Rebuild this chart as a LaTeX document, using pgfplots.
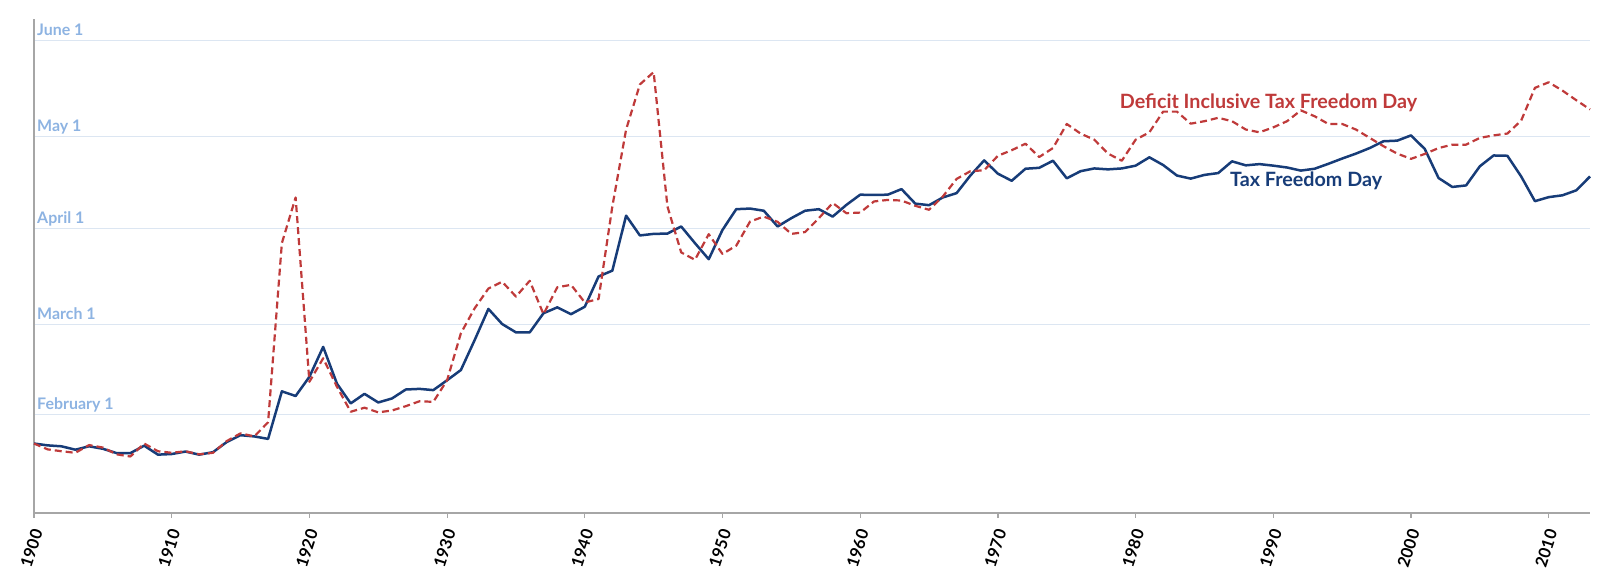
\documentclass[border=0pt]{standalone}
\usepackage{fontspec}
\setmainfont{Lato}
\usepackage{pgfplots}
\pgfplotsset{compat=1.18}
\definecolor{tfdblue}{HTML}{173C78}
\definecolor{ditred}{HTML}{BF3A3A}
\definecolor{gridblue}{HTML}{DCE6F2}
\definecolor{lablue}{HTML}{8DB3E2}
\definecolor{axgrey}{HTML}{A6A6A6}
\begin{document}
\begin{tikzpicture}
\begin{axis}[
  scale only axis, width=1556bp, height=494bp,
  xmin=1900, xmax=2013, ymin=0, ymax=160,
  axis lines=left,
  axis line style={-, draw=axgrey, line width=1.2bp},
  xtick={1900,1910,1920,1930,1940,1950,1960,1970,1980,1990,2000,2010},
  xticklabels={1900,1910,1920,1930,1940,1950,1960,1970,1980,1990,2000,2010},
  tick align=outside, major tick length=5bp,
  x tick style={draw=axgrey, line width=1.2bp},
  ytick={32,61,92,122,153},
  yticklabels={February 1,March 1,April 1,May 1,June 1},
  y tick style={draw=none},
  ymajorgrids, grid style={draw=gridblue, line width=1bp},
  yticklabel style={anchor=base west, inner sep=0pt, xshift=8bp, yshift=5bp,
    text=lablue, font=\bfseries\fontsize{16}{16}\selectfont},
  xticklabel style={xshift=4bp, yshift=-10bp, rotate=72, anchor=east, inner sep=2bp,
    text=black, font=\bfseries\fontsize{16.5}{16.5}\selectfont},
  clip=false,
]
\addplot[tfdblue, line width=2.5bp, line join=round] coordinates {
(1900,22.5)(1901,21.9)(1902,21.6)(1903,20.5)(1904,21.6)(1905,20.8)(1906,19.4)(1907,19.4)(1908,21.8)(1909,18.9)
(1910,19.1)(1911,19.9)(1912,18.9)(1913,19.7)(1914,23.0)(1915,25.2)(1916,24.8)(1917,24.0)(1918,39.4)(1919,37.9)
(1920,44.1)(1921,53.8)(1922,41.9)(1923,35.5)(1924,38.6)(1925,35.8)(1926,37.1)(1927,40.0)(1928,40.2)(1929,39.8)
(1930,43.0)(1931,46.3)(1932,56.0)(1933,66.1)(1934,61.2)(1935,58.5)(1936,58.5)(1937,64.7)(1938,66.6)(1939,64.4)
(1940,66.8)(1941,76.6)(1942,78.5)(1943,96.3)(1944,89.9)(1945,90.4)(1946,90.5)(1947,92.8)(1948,87.4)(1949,82.2)
(1950,91.7)(1951,98.4)(1952,98.6)(1953,97.9)(1954,92.8)(1955,95.5)(1956,97.9)(1957,98.4)(1958,96.0)(1959,99.8)
(1960,103.1)(1961,103.0)(1962,103.1)(1963,104.9)(1964,100.2)(1965,99.7)(1966,102.2)(1967,103.6)(1968,109.3)(1969,114.2)
(1970,109.9)(1971,107.6)(1972,111.5)(1973,111.8)(1974,114.1)(1975,108.4)(1976,110.7)(1977,111.6)(1978,111.3)(1979,111.6)
(1980,112.5)(1981,115.2)(1982,112.7)(1983,109.3)(1984,108.3)(1985,109.5)(1986,110.1)(1987,113.9)(1988,112.6)(1989,113.0)
(1990,112.5)(1991,111.9)(1992,110.9)(1993,111.5)(1994,113.1)(1995,114.8)(1996,116.4)(1997,118.2)(1998,120.4)(1999,120.6)
(2000,122.3)(2001,117.9)(2002,108.5)(2003,105.6)(2004,106.1)(2005,112.3)(2006,115.8)(2007,115.7)(2008,109.0)(2009,101.0)
(2010,102.3)(2011,102.9)(2012,104.5)(2013,109.0)
};
\addplot[ditred, line width=2.2bp, dash pattern=on 7bp off 4bp, line join=round] coordinates {
(1900,22.5)(1901,20.6)(1902,20.0)(1903,19.5)(1904,22.0)(1905,21.2)(1906,19.0)(1907,18.3)(1908,22.5)(1909,20.0)
(1910,19.5)(1911,20.0)(1912,19.0)(1913,19.5)(1914,23.3)(1915,25.8)(1916,24.8)(1917,29.4)(1918,87.4)(1919,102.2)
(1920,42.5)(1921,50.1)(1922,40.9)(1923,32.8)(1924,34.1)(1925,32.6)(1926,33.2)(1927,34.6)(1928,36.2)(1929,36.0)
(1930,43.0)(1931,58.2)(1932,66.3)(1933,72.7)(1934,74.9)(1935,70.1)(1936,75.2)(1937,64.4)(1938,73.1)(1939,73.9)
(1940,68.2)(1941,69.3)(1942,99.3)(1943,124.2)(1944,138.8)(1945,142.8)(1946,99.3)(1947,84.4)(1948,82.0)(1949,90.3)
(1950,83.9)(1951,86.6)(1952,94.4)(1953,96.0)(1954,94.3)(1955,90.4)(1956,91.0)(1957,95.5)(1958,100.4)(1959,97.1)
(1960,97.3)(1961,100.9)(1962,101.4)(1963,101.2)(1964,99.5)(1965,98.2)(1966,102.5)(1967,108.2)(1968,110.7)(1969,111.0)
(1970,115.7)(1971,117.5)(1972,119.6)(1973,115.3)(1974,118.2)(1975,126.0)(1976,122.9)(1977,120.9)(1978,116.4)(1979,114.1)
(1980,120.9)(1981,123.3)(1982,130.0)(1983,130.0)(1984,126.1)(1985,126.9)(1986,128.0)(1987,126.9)(1988,124.2)(1989,123.3)
(1990,124.9)(1991,126.9)(1992,130.4)(1993,128.5)(1994,126.0)(1995,126.0)(1996,124.2)(1997,121.5)(1998,118.8)(1999,116.4)
(2000,114.7)(2001,116.3)(2002,118.2)(2003,119.3)(2004,119.3)(2005,121.5)(2006,122.3)(2007,122.9)(2008,127.1)(2009,137.7)
(2010,139.5)(2011,136.8)(2012,133.7)(2013,130.7)
};
\node[anchor=base west, inner sep=0pt, text=ditred, font=\bfseries\fontsize{19.8}{19.8}\selectfont]
  at (axis cs:1978.85,130.9) {Deficit Inclusive Tax Freedom Day};
\node[anchor=base west, inner sep=0pt, text=tfdblue, font=\bfseries\fontsize{19.8}{19.8}\selectfont]
  at (axis cs:1986.85,105.8) {Tax Freedom Day};
\end{axis}
\path (current axis.south west) ++(-34bp,-66bp) rectangle ++(1600bp,579bp);
\end{tikzpicture}
\end{document}
